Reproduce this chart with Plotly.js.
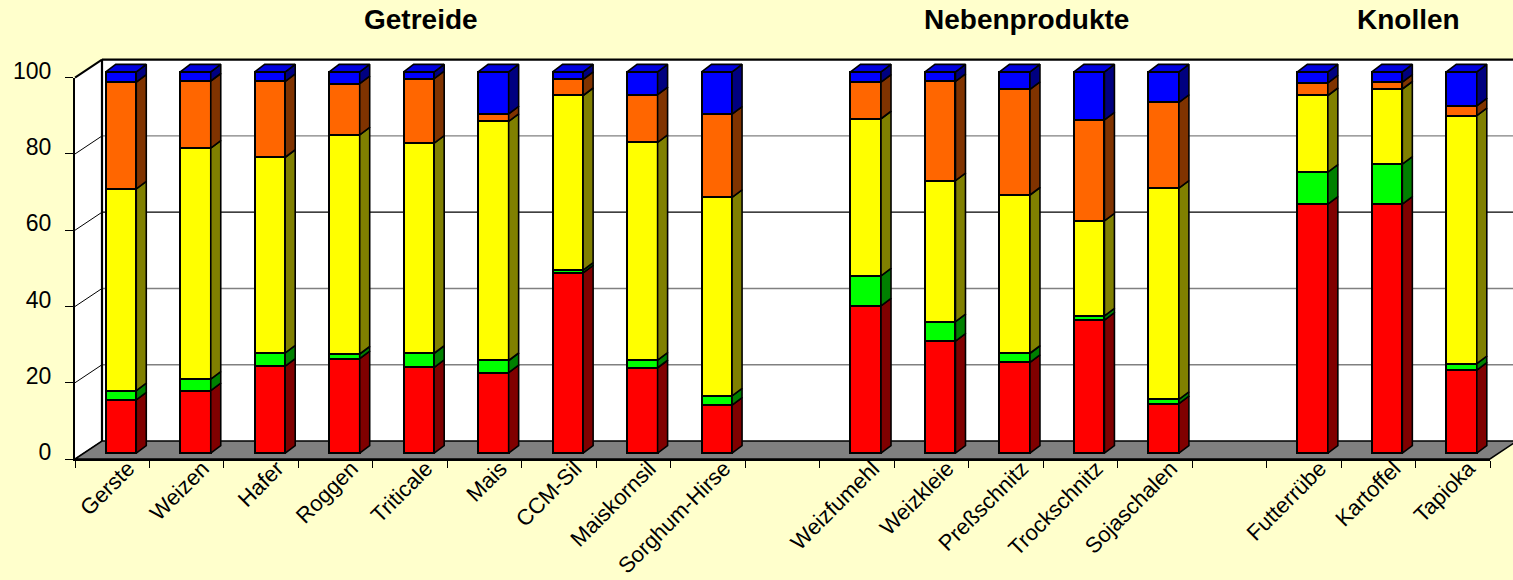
<!DOCTYPE html>
<html>
<head>
<meta charset="utf-8">
<script src="https://cdn.plot.ly/plotly-3.0.1.min.js"></script>
<style>
  html, body { margin: 0; padding: 0; background: #FFFFCC; }
  #chart { width: 1513px; height: 580px; }
</style>
</head>
<body>
<div id="chart"></div>
<script>
// Feed components, percentage shares per stacked segment (bottom to top)
const categories = ['Gerste', 'Weizen', 'Hafer', 'Roggen', 'Triticale', 'Mais', 'CCM-Sil', 'Maiskornsil', 'Sorghum-Hirse', ' ',
  'Weizfumehl', 'Weizkleie', 'Preßschnitz', 'Trockschnitz', 'Sojaschalen', '  ',
  'Futterrübe', 'Kartoffel', 'Tapioka'];
const anteilRot    = [14.0, 16.4, 22.8, 24.8, 22.5, 21.1, 47.3, 22.4, 12.6, null, 38.6, 29.4, 23.8, 34.9, 13.0, null, 65.3, 65.3, 21.8];
const anteilGruen  = [ 2.4,  3.0,  3.5,  1.2,  3.7,  3.2,  0.7,  2.0,  2.4, null,  7.9,  5.1,  2.4,  1.1,  1.1, null,  8.4, 10.5,  1.7];
const anteilGelb   = [52.9, 60.6, 51.3, 57.5, 55.1, 62.7, 45.8, 57.1, 52.1, null, 41.2, 37.0, 41.5, 24.9, 55.4, null, 20.1, 19.7, 65.0];
const anteilOrange = [28.0, 17.6, 19.9, 13.4, 16.9,  2.0,  4.2, 12.5, 21.8, null,  9.6, 26.0, 27.7, 26.5, 22.5, null,  3.3,  1.8,  2.6];
const anteilBlau   = [ 2.7,  2.4,  2.5,  3.1,  1.8, 11.0,  2.0,  6.0, 11.1, null,  2.7,  2.5,  4.6, 12.6,  8.0, null,  2.9,  2.7,  8.9];
const groupTitles = ['Getreide', 'Nebenprodukte', 'Knollen'];
const yTicks = [0, 20, 40, 60, 80, 100];

// ---- pseudo-3D geometry (pixels) ----
const W = 1513, H = 580;
const FRONT = { x0: 75, x1: 1490, y0: 459, y100: 77.7 };   // front plane of the box
const WALL = { dx: 27, dy: -18 };                           // depth vector front -> back wall
const BAR_DEPTH = 0.325;                                    // front faces of the columns
const SIDE = { dx: 10, dy: -7.5 };                          // column thickness in depth
const BAR_W = 0.41;                                         // column width in category units
const titleX = [421, 1026, 1408];
const gridColor = { 20: '#808080', 40: '#808080', 60: '#000000', 80: '#808080' };

const nCat = categories.length;
const pxCat = (FRONT.x1 - FRONT.x0) / nCat;
const pxUnit = (FRONT.y0 - FRONT.y100) / 100;
const px = x => x / W;
const py = y => 1 - y / H;

const barX0 = FRONT.x0 + WALL.dx * BAR_DEPTH;
const barBase = FRONT.y0 + WALL.dy * BAR_DEPTH;
const barYRange = [-2, 104];
const sdx = SIDE.dx / pxCat;
const sdy = -SIDE.dy / pxUnit;

const backX = FRONT.x0 + WALL.dx, backBase = FRONT.y0 + WALL.dy, backTop = FRONT.y100 + WALL.dy;

const series = [
  { name: 'rot',    values: anteilRot,    face: '#FF0000', side: '#800000' },
  { name: 'grün',   values: anteilGruen,  face: '#00FF00', side: '#008000' },
  { name: 'gelb',   values: anteilGelb,   face: '#FFFF00', side: '#808000' },
  { name: 'orange', values: anteilOrange, face: '#FF6600', side: '#803300' },
  { name: 'blau',   values: anteilBlau,   face: '#0000FF', side: '#000080', top: '#0000E0' }
];

const xIdx = categories.map((_, i) => i);
const traces = [];

// carrier for the category axis of the front plane
traces.push({
  type: 'scatter', mode: 'markers', x: categories, y: categories.map(() => null),
  xaxis: 'x', yaxis: 'y', hoverinfo: 'skip', showlegend: false, marker: { opacity: 0 }
});

// front faces: stacked columns
series.forEach(s => {
  traces.push({
    type: 'bar', name: s.name, x: xIdx, y: s.values, width: BAR_W,
    marker: { color: s.face, line: { color: '#000', width: 2 } },
    xaxis: 'x2', yaxis: 'y2', hoverinfo: 'skip', showlegend: false
  });
});

// side faces of each segment
const cum = xIdx.map(() => 0);
series.forEach(s => {
  const xs = [], ys = [];
  s.values.forEach((v, i) => {
    if (v == null) return;
    const b = cum[i], t = b + v;
    cum[i] = t;
    const xr = i + BAR_W / 2;
    xs.push(xr, xr + sdx, xr + sdx, xr, xr, null);
    ys.push(b, b + sdy, t + sdy, t, b, null);
  });
  traces.push({
    type: 'scatter', mode: 'lines', x: xs, y: ys, fill: 'toself', fillcolor: s.side,
    line: { color: '#000', width: 1.6 }, xaxis: 'x2', yaxis: 'y2', hoverinfo: 'skip', showlegend: false
  });
});

// top faces of the columns
(function () {
  const xs = [], ys = [];
  cum.forEach((t, i) => {
    if (!t) return;
    const xl = i - BAR_W / 2, xr = i + BAR_W / 2;
    xs.push(xl, xl + sdx, xr + sdx, xr, xl, null);
    ys.push(t, t + sdy, t + sdy, t, t, null);
  });
  const topSeries = series[series.length - 1];
  traces.push({
    type: 'scatter', mode: 'lines', x: xs, y: ys, fill: 'toself', fillcolor: topSeries.top,
    line: { color: '#000', width: 1.6 }, xaxis: 'x2', yaxis: 'y2', hoverinfo: 'skip', showlegend: false
  });
})();

// ---- walls, floor and grid ----
const P = (x, y) => px(x).toFixed(5) + ',' + py(y).toFixed(5);
const shapes = [];
shapes.push({ type: 'rect', xref: 'paper', yref: 'paper', layer: 'below',
  x0: px(backX), x1: 1.02, y0: py(backBase), y1: py(backTop), fillcolor: '#FFFFFF', line: { width: 0 } });
shapes.push({ type: 'path', xref: 'paper', yref: 'paper', layer: 'below',
  path: 'M' + P(FRONT.x0, FRONT.y0) + 'L' + P(backX, backBase) + 'L' + P(backX, backTop) + 'L' + P(FRONT.x0, FRONT.y100) + 'Z',
  fillcolor: '#FFFFFF', line: { width: 0 } });
yTicks.forEach(v => {
  const yb = backBase - v * pxUnit, yf = FRONT.y0 - v * pxUnit;
  if (v > 0 && v < 100) {
    shapes.push({ type: 'line', xref: 'paper', yref: 'paper', layer: 'below',
      x0: px(backX), x1: 1.02, y0: py(yb), y1: py(yb), line: { color: gridColor[v], width: 1.3 } });
  }
  shapes.push({ type: 'line', xref: 'paper', yref: 'paper', layer: 'below',
    x0: px(FRONT.x0), x1: px(backX), y0: py(yf), y1: py(yb), line: { color: '#000', width: v === 100 ? 2 : 1 } });
});
shapes.push({ type: 'path', xref: 'paper', yref: 'paper', layer: 'below',
  path: 'M' + P(FRONT.x0, FRONT.y0) + 'L' + P(FRONT.x1, FRONT.y0) + 'L' + P(FRONT.x1 + WALL.dx, backBase) + 'L' + P(backX, backBase) + 'Z',
  fillcolor: '#808080', line: { color: '#000', width: 1.6 } });
shapes.push({ type: 'line', xref: 'paper', yref: 'paper', layer: 'below',
  x0: px(backX), x1: 1.02, y0: py(backTop), y1: py(backTop), line: { color: '#000', width: 2.2 } });
shapes.push({ type: 'line', xref: 'paper', yref: 'paper', layer: 'below',
  x0: px(backX), x1: px(backX), y0: py(backTop), y1: py(backBase), line: { color: '#000', width: 2.2 } });

const font = 'Liberation Sans, Arial, sans-serif';
const annotations = groupTitles.map((t, k) => ({
  text: t, xref: 'paper', yref: 'paper', x: px(titleX[k]), y: py(19), xanchor: 'center', yanchor: 'middle',
  showarrow: false, font: { family: font, size: 28, weight: 'bold', color: '#000' }
}));

const layout = {
  width: W, height: H,
  margin: { l: 0, r: 0, t: 0, b: 0 },
  paper_bgcolor: '#FFFFCC', plot_bgcolor: 'rgba(0,0,0,0)',
  showlegend: false, hovermode: false, barmode: 'stack',
  xaxis: {
    type: 'category', categoryorder: 'array', categoryarray: categories,
    domain: [px(FRONT.x0), px(FRONT.x1)], range: [-0.5, nCat - 0.5], anchor: 'y',
    tickson: 'boundaries', ticks: 'outside', ticklen: 7, tickwidth: 1, tickcolor: '#000',
    tickangle: -45, ticklabelshift: 16, ticklabelstandoff: -14,
    tickfont: { family: font, size: 22, color: '#000' },
    showline: true, linecolor: '#000', linewidth: 2, showgrid: false, zeroline: false, fixedrange: true
  },
  yaxis: {
    domain: [py(FRONT.y0), py(FRONT.y100)], range: [0, 100], anchor: 'x',
    tickvals: yTicks, ticks: 'outside', ticklen: 8, tickwidth: 1, tickcolor: '#000',
    ticklabelstandoff: 9, ticklabelshift: -7,
    tickfont: { family: font, size: 23, color: '#000' },
    showline: true, linecolor: '#000', linewidth: 2, showgrid: false, zeroline: false, fixedrange: true
  },
  xaxis2: {
    domain: [px(barX0), px(barX0 + nCat * pxCat)], range: [-0.5, nCat - 0.5], anchor: 'y2',
    visible: false, fixedrange: true
  },
  yaxis2: {
    domain: [py(barBase - barYRange[0] * pxUnit), py(barBase - barYRange[1] * pxUnit)], range: barYRange, anchor: 'x2',
    visible: false, fixedrange: true
  },
  shapes: shapes,
  annotations: annotations
};

Plotly.newPlot('chart', traces, layout, { displayModeBar: false, staticPlot: true });
</script>
</body>
</html>
